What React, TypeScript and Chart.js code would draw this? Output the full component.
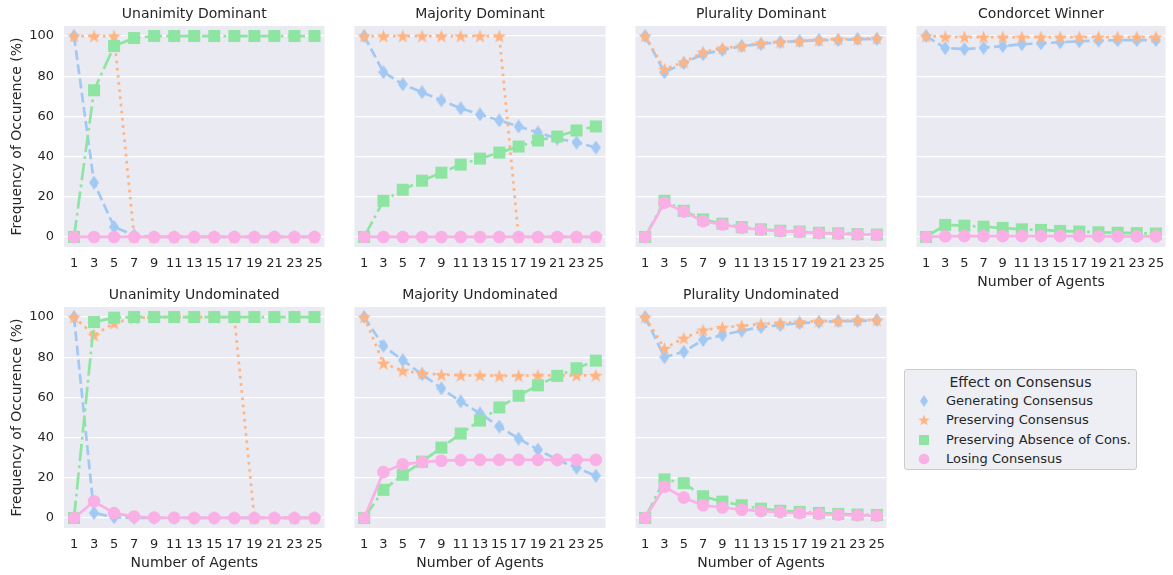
import React, { useEffect, useRef } from "react";
import { Chart, registerables } from "chart.js";

Chart.register(...registerables);
Chart.defaults.font.family = "'DejaVu Sans', sans-serif";

// ---------- data ----------
const agents = ["1", "3", "5", "7", "9", "11", "13", "15", "17", "19", "21", "23", "25"];
const yTickValues = [0, 20, 40, 60, 80, 100];
const seriesNames = [
  "Generating Consensus",
  "Preserving Consensus",
  "Preserving Absence of Cons.",
  "Losing Consensus",
];
const legendTitle = "Effect on Consensus";
const yAxisLabel = "Frequency of Occurence (%)";
const xAxisLabel = "Number of Agents";

const unaDomGen = [100, 27, 5, 0.8, 0, 0, 0, 0, 0, 0, 0, 0, 0];
const unaDomPres = [100, 100, 100, 0, 0, 0, 0, 0, 0, 0, 0, 0, 0];
const unaDomAbs = [0, 73, 95, 99, 100, 100, 100, 100, 100, 100, 100, 100, 100];
const unaDomLose = [0, 0, 0, 0, 0, 0, 0, 0, 0, 0, 0, 0, 0];

const majDomGen = [100, 82, 76, 72, 68, 64, 61, 58, 55, 52, 49, 47, 44.5];
const majDomPres = [100, 100, 100, 100, 100, 100, 100, 100, 0, 0, 0, 0, 0];
const majDomAbs = [0, 18, 23.5, 28, 32, 36, 39, 42, 45, 48, 50, 53, 55];
const majDomLose = [0, 0, 0, 0, 0, 0, 0, 0, 0, 0, 0, 0, 0];

const pluDomGen = [100, 82, 86.5, 91, 93, 95, 96, 97, 97.5, 98, 98, 98.5, 98.5];
const pluDomPres = [100, 83.5, 87, 92, 94, 95, 96.5, 97, 97.5, 98, 98.5, 98.5, 99];
const pluDomAbs = [0, 18, 13, 8.7, 6.6, 4.9, 3.8, 3.1, 2.7, 2.1, 1.8, 1.4, 1.2];
const pluDomLose = [0, 17, 12.6, 7.8, 6.2, 4.6, 3.6, 2.9, 2.5, 1.9, 1.6, 1.3, 1.1];

const conGen = [100, 94, 93.5, 94.2, 95, 95.9, 96.4, 96.9, 97.4, 97.7, 97.9, 98, 98];
const conPres = [100, 99.6, 99.5, 99.5, 99.5, 99.5, 99.5, 99.5, 99.5, 99.5, 99.5, 99.5, 99.5];
const conAbs = [0, 6, 5.6, 5.1, 4.5, 3.8, 3.5, 3, 2.7, 2.3, 2.1, 1.9, 1.7];
const conLose = [0, 0.3, 0.4, 0.4, 0.4, 0.4, 0.4, 0.4, 0.4, 0.3, 0.3, 0.3, 0.3];

const unaUndGen = [100, 2.5, 0.3, 0.1, 0, 0, 0, 0, 0, 0, 0, 0, 0];
const unaUndPres = [100, 91, 97, 99.5, 100, 100, 100, 100, 100, 0, 0, 0, 0];
const unaUndAbs = [0, 97.5, 99.7, 100, 100, 100, 100, 100, 100, 100, 100, 100, 100];
const unaUndLose = [0, 8.3, 2.4, 0.7, 0.2, 0.1, 0, 0, 0, 0, 0, 0, 0];

const majUndGen = [100, 85.6, 78.5, 71.5, 64.5, 58, 52, 45.5, 39.5, 34, 29, 25, 21];
const majUndPres = [100, 77, 73.3, 72, 71.3, 71, 71, 70.7, 70.8, 71, 71, 71, 71];
const majUndAbs = [0, 14, 21.5, 28, 35, 42, 48.5, 55, 60.8, 66, 70.7, 74.5, 78.3];
const majUndLose = [0, 22.8, 26.7, 27.8, 28.5, 28.8, 28.9, 28.9, 28.9, 28.9, 28.9, 28.9, 28.9];

const pluUndGen = [100, 80, 82.7, 88.6, 91, 93.2, 95, 96, 97, 97.5, 98, 98, 98.5];
const pluUndPres = [100, 84.4, 89.5, 93.5, 94.8, 95.6, 96.5, 97, 97.5, 98, 98, 98.5, 98.5];
const pluUndAbs = [0, 19.2, 17.3, 10.8, 8.1, 6.3, 4.6, 3.6, 3, 2.5, 2, 1.7, 1.5];
const pluUndLose = [0, 15.5, 10.1, 6.3, 5.2, 4.1, 3.4, 2.9, 2.4, 2, 1.6, 1.3, 1.1];

const panels = [
  { title: "Unanimity Dominant", series: [unaDomGen, unaDomPres, unaDomAbs, unaDomLose], row: 0, col: 0, xTitle: false },
  { title: "Majority Dominant", series: [majDomGen, majDomPres, majDomAbs, majDomLose], row: 0, col: 1, xTitle: false },
  { title: "Plurality Dominant", series: [pluDomGen, pluDomPres, pluDomAbs, pluDomLose], row: 0, col: 2, xTitle: false },
  { title: "Condorcet Winner", series: [conGen, conPres, conAbs, conLose], row: 0, col: 3, xTitle: true },
  { title: "Unanimity Undominated", series: [unaUndGen, unaUndPres, unaUndAbs, unaUndLose], row: 1, col: 0, xTitle: true },
  { title: "Majority Undominated", series: [majUndGen, majUndPres, majUndAbs, majUndLose], row: 1, col: 1, xTitle: true },
  { title: "Plurality Undominated", series: [pluUndGen, pluUndPres, pluUndAbs, pluUndLose], row: 1, col: 2, xTitle: true },
];

// ---------- styles ----------
const colors = ["#a1c9f4", "#ffb482", "#8de5a1", "#fab0e4"];
const LW = 2.7;
const dashes = [[10, 4.3], [2.7, 4.5], [17.3, 4.3, 2.7, 4.3], []];
const TEXT = "#262626";
const PANEL_BG = "#eaeaf2";

const plotLefts = [64, 346, 627, 908];
const plotWidths = [266, 265, 265, 263];
const rowTops = [0, 281];
const TOP_PAD = 26;
const PLOT_H = 221;

function makeDiamond(color: string) {
  const w = 10, h = 14;
  const c = document.createElement("canvas");
  c.width = w; c.height = h;
  const ctx = c.getContext("2d")!;
  ctx.fillStyle = color;
  ctx.beginPath();
  ctx.moveTo(w / 2, 0);
  ctx.lineTo(w, h / 2);
  ctx.lineTo(w / 2, h);
  ctx.lineTo(0, h / 2);
  ctx.closePath();
  ctx.fill();
  return c;
}

function makeStar(color: string) {
  const s = 15;
  const R = 7.2, r = R * 0.4;
  const c = document.createElement("canvas");
  c.width = s; c.height = s;
  const ctx = c.getContext("2d")!;
  ctx.fillStyle = color;
  ctx.beginPath();
  for (let i = 0; i < 10; i++) {
    const ang = -Math.PI / 2 + (i * Math.PI) / 5;
    const rr = i % 2 === 0 ? R : r;
    const x = s / 2 + rr * Math.cos(ang);
    const y = s / 2 + 0.6 + rr * Math.sin(ang);
    if (i === 0) ctx.moveTo(x, y); else ctx.lineTo(x, y);
  }
  ctx.closePath();
  ctx.fill();
  return c;
}

const panelPlugin = {
  id: "panelDecor",
  beforeDraw(chart: any, _args: any, opts: any) {
    const { ctx, chartArea } = chart;
    ctx.save();
    ctx.fillStyle = PANEL_BG;
    ctx.fillRect(chartArea.left, chartArea.top, chartArea.right - chartArea.left, chartArea.bottom - chartArea.top);
    ctx.fillStyle = TEXT;
    ctx.font = "14px 'DejaVu Sans', sans-serif";
    ctx.textAlign = "center";
    ctx.textBaseline = "middle";
    ctx.fillText(opts.text, (chartArea.left + chartArea.right) / 2, chartArea.top - 12);
    ctx.restore();
  },
};

function Panel({ p }: { p: any }) {
  const ref = useRef<HTMLCanvasElement>(null);
  const yW = p.col === 0 ? 64 : 0;
  const xH = p.xTitle ? 48 : 30;
  const left = p.col === 0 ? 0 : plotLefts[p.col];
  const top = rowTops[p.row];
  const width = yW + plotWidths[p.col] + 3;
  const height = TOP_PAD + PLOT_H + xH;

  useEffect(() => {
    const styles: any[] = [makeDiamond(colors[0]), makeStar(colors[1]), "rect", "circle"];
    const radii = [6, 6, 8.5, 6.3];
    const datasets = p.series.map((d: number[], i: number) => ({
      label: seriesNames[i],
      data: d,
      borderColor: colors[i],
      backgroundColor: colors[i],
      borderWidth: LW,
      borderDash: dashes[i],
      borderCapStyle: "butt",
      pointStyle: styles[i],
      pointRadius: radii[i],
      pointBackgroundColor: colors[i],
      pointBorderColor: colors[i],
      pointBorderWidth: 0,
      tension: 0,
      order: 3 - i,
      clip: false,
    }));
    const chart = new Chart(ref.current!, {
      type: "line",
      data: { labels: agents, datasets },
      options: {
        animation: false,
        responsive: false,
        events: [],
        layout: { padding: { top: TOP_PAD, left: 0, right: 3, bottom: 0 } },
        plugins: {
          legend: { display: false },
          tooltip: { enabled: false },
          title: { display: false },
          panelDecor: { text: p.title },
        } as any,
        scales: {
          x: {
            type: "category",
            offset: true,
            grid: { display: false, drawTicks: false },
            border: { display: false },
            ticks: { color: TEXT, font: { size: 13 }, padding: 9, maxRotation: 0, autoSkip: false },
            title: { display: p.xTitle, text: xAxisLabel, color: TEXT, font: { size: 14 }, padding: { top: 0, bottom: 4 } },
            afterFit: (s: any) => { s.height = xH; },
          },
          y: {
            min: -5,
            max: 105,
            afterBuildTicks: (s: any) => { s.ticks = yTickValues.map((v) => ({ value: v })); },
            grid: { color: "#ffffff", lineWidth: 1.2, drawTicks: false },
            border: { display: false },
            ticks: { display: p.col === 0, color: TEXT, font: { size: 13 }, padding: 10 },
            title: { display: p.col === 0, text: yAxisLabel, color: TEXT, font: { size: 14 }, padding: { top: 8.6, bottom: 0 } },
            afterFit: (s: any) => { s.width = yW; },
          },
        },
      } as any,
      plugins: [panelPlugin as any],
    });
    return () => chart.destroy();
  }, []);

  return (
    <canvas
      ref={ref}
      width={width}
      height={height}
      style={{ position: "absolute", left, top, width, height }}
    />
  );
}

function LegendMarker({ i }: { i: number }) {
  const c = colors[i];
  let shape: any;
  if (i === 0) shape = <polygon points="7,1 11,7 7,13 3,7" fill={c} />;
  else if (i === 1) {
    const pts: string[] = [];
    for (let k = 0; k < 10; k++) {
      const ang = -Math.PI / 2 + (k * Math.PI) / 5;
      const rr = k % 2 === 0 ? 6 : 2.4;
      pts.push(`${(7 + rr * Math.cos(ang)).toFixed(2)},${(7.5 + rr * Math.sin(ang)).toFixed(2)}`);
    }
    shape = <polygon points={pts.join(" ")} fill={c} />;
  } else if (i === 2) shape = <rect x="2" y="2" width="10" height="10" fill={c} />;
  else shape = <circle cx="7" cy="7" r="5.3" fill={c} />;
  return (
    <svg width="14" height="14" style={{ position: "absolute", left: 12, top: -7 }}>
      {shape}
    </svg>
  );
}

function Legend() {
  const rows = [31, 50, 70, 89];
  return (
    <div
      style={{
        position: "absolute",
        left: 904,
        top: 369,
        width: 231,
        height: 99,
        background: "rgba(234,234,242,0.8)",
        border: "1px solid #cccccc",
        borderRadius: 3,
        fontFamily: "'DejaVu Sans', sans-serif",
        color: TEXT,
      }}
    >
      <div style={{ position: "absolute", left: 0, width: 231, top: 3, height: 18, lineHeight: "18px", textAlign: "center", fontSize: 14 }}>
        {legendTitle}
      </div>
      {seriesNames.map((n, i) => (
        <div key={n} style={{ position: "absolute", left: 0, top: rows[i], width: 231, height: 0 }}>
          <LegendMarker i={i} />
          <div style={{ position: "absolute", left: 41, top: -9, height: 18, lineHeight: "18px", fontSize: 13, whiteSpace: "nowrap" }}>
            {n}
          </div>
        </div>
      ))}
    </div>
  );
}

export default function App() {
  return (
    <div
      style={{
        position: "fixed",
        left: 0,
        top: 0,
        width: 1173,
        height: 575,
        background: "#ffffff",
        overflow: "hidden",
      }}
    >
      {panels.map((p) => (
        <Panel key={p.title} p={p} />
      ))}
      <Legend />
    </div>
  );
}
